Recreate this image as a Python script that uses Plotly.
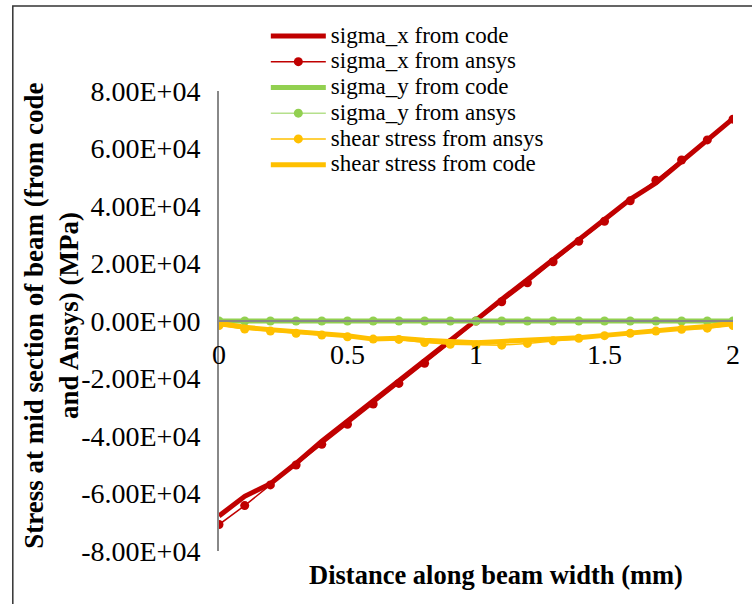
import plotly.graph_objects as go

x_vals = [round(i * 0.1, 1) for i in range(21)]

sigma_x_code = [-67800, -61000, -56600, -49500, -41800, -34800, -27800, -20800, -14000, -7200, 300,
                7500, 14300, 21300, 28300, 35300, 42300, 48000, 55500, 63000, 70400]
sigma_x_ansys = [-70800, -64200, -57000, -50100, -42900, -35900, -28900, -21700, -14700, -7600, 0,
                 6700, 13300, 20600, 27700, 34700, 41800, 49000, 56000, 63000, 70200]
sigma_y_code = [0] * 21
sigma_y_ansys = [0] * 21
shear_ansys = [-1600, -2800, -3500, -4300, -4900, -5500, -6300, -6400, -7500, -8100, -8300,
               -8400, -7800, -6900, -6000, -5100, -4300, -3500, -2900, -2500, -1600]
shear_code = [-800, -2200, -3000, -3700, -4300, -5100, -6300, -6000, -6700, -7200, -7600,
              -7100, -6700, -6400, -5800, -5000, -4100, -3100, -2600, -1900, -700]

series_names = ["sigma_x from code", "sigma_x from ansys", "sigma_y from code",
                "sigma_y from ansys", "shear stress from ansys", "shear stress from code"]

y_tickvals = [-80000, -60000, -40000, -20000, 0, 20000, 40000, 60000, 80000]
y_ticktext = ["-8.00E+04", "-6.00E+04", "-4.00E+04", "-2.00E+04", "0.00E+00",
              "2.00E+04", "4.00E+04", "6.00E+04", "8.00E+04"]
x_tickvals = [0, 0.5, 1, 1.5, 2]
x_ticktext = ["0", "0.5", "1", "1.5", "2"]

RED = "#C00000"
GREEN = "#92D050"
GREEN_LIGHT = "#B5E08C"
YELLOW = "#FFC000"
FONT = "Liberation Serif"


def lg(name):
    return '<span style="font-size:23px">' + name + '</span>'


fig = go.Figure()
fig.add_trace(go.Scatter(x=x_vals, y=sigma_x_code, mode="lines", name=lg(series_names[0]),
                         line=dict(color=RED, width=5)))
fig.add_trace(go.Scatter(x=x_vals, y=sigma_x_ansys, mode="lines+markers", name=lg(series_names[1]),
                         line=dict(color=RED, width=1.5), marker=dict(color=RED, size=9)))
fig.add_trace(go.Scatter(x=x_vals, y=sigma_y_code, mode="lines", name=lg(series_names[2]),
                         line=dict(color=GREEN, width=5)))
fig.add_trace(go.Scatter(x=x_vals, y=sigma_y_ansys, mode="lines+markers", name=lg(series_names[3]),
                         line=dict(color=GREEN_LIGHT, width=1.5), marker=dict(color=GREEN, size=9)))
fig.add_trace(go.Scatter(x=x_vals, y=shear_ansys, mode="lines+markers", name=lg(series_names[4]),
                         line=dict(color=YELLOW, width=1.5), marker=dict(color=YELLOW, size=9)))
fig.add_trace(go.Scatter(x=x_vals, y=shear_code, mode="lines", name=lg(series_names[5]),
                         line=dict(color=YELLOW, width=5)))

L, R, T, B = 219, 17, 91, 53
W, H = 752, 604
pw, ph = W - L - R, H - T - B

fig.update_layout(
    width=W, height=H,
    margin=dict(l=L, r=R, t=T, b=B),
    paper_bgcolor="white", plot_bgcolor="white",
    font=dict(family=FONT, color="black", size=24),
    showlegend=True,
    legend=dict(x=(266 - L) / pw, y=1 + (T - 18) / ph, xanchor="left", yanchor="top",
                bgcolor="rgba(0,0,0,0)", font=dict(family=FONT, size=17.5, color="black"),
                tracegroupgap=0, itemwidth=55),
    xaxis=dict(range=[0, 2], tickvals=x_tickvals, ticktext=x_ticktext,
               showgrid=False, zeroline=False, showline=True, linecolor="#888888", linewidth=1.5,
               ticks="", anchor="free", position=0.5, ticklabelstandoff=9,
               tickfont=dict(family=FONT, size=28, color="black")),
    yaxis=dict(range=[-80000, 80000], tickvals=y_tickvals, ticktext=y_ticktext,
               showgrid=False, zeroline=False, showline=True, linecolor="#888888", linewidth=2,
               ticks="", ticklabelstandoff=11,
               tickfont=dict(family=FONT, size=28, color="black")),
    shapes=[dict(type="rect", xref="paper", yref="paper",
                 x0=(12 - L) / pw, x1=(800 - L) / pw,
                 y0=-(660 - (H - B)) / ph, y1=((H - B) - 6) / ph,
                 line=dict(color="#333333", width=1.5), fillcolor="rgba(0,0,0,0)", layer="below")],
    annotations=[
        dict(text="<b>Stress at mid section of beam (from code<br>and Ansys) (MPa)</b>",
             xref="paper", yref="paper", x=(50 - L) / pw, y=((H - B) - 316) / ph,
             xanchor="center", yanchor="middle", textangle=-90, showarrow=False,
             font=dict(family=FONT, size=27, color="black")),
        dict(text="<b>Distance along beam width (mm)</b>",
             xref="paper", yref="paper", x=(497 - L) / pw, y=-((575 - (H - B)) / ph),
             xanchor="center", yanchor="middle", showarrow=False,
             font=dict(family=FONT, size=26.5, color="black")),
    ],
)

fig.write_html("out.html")
